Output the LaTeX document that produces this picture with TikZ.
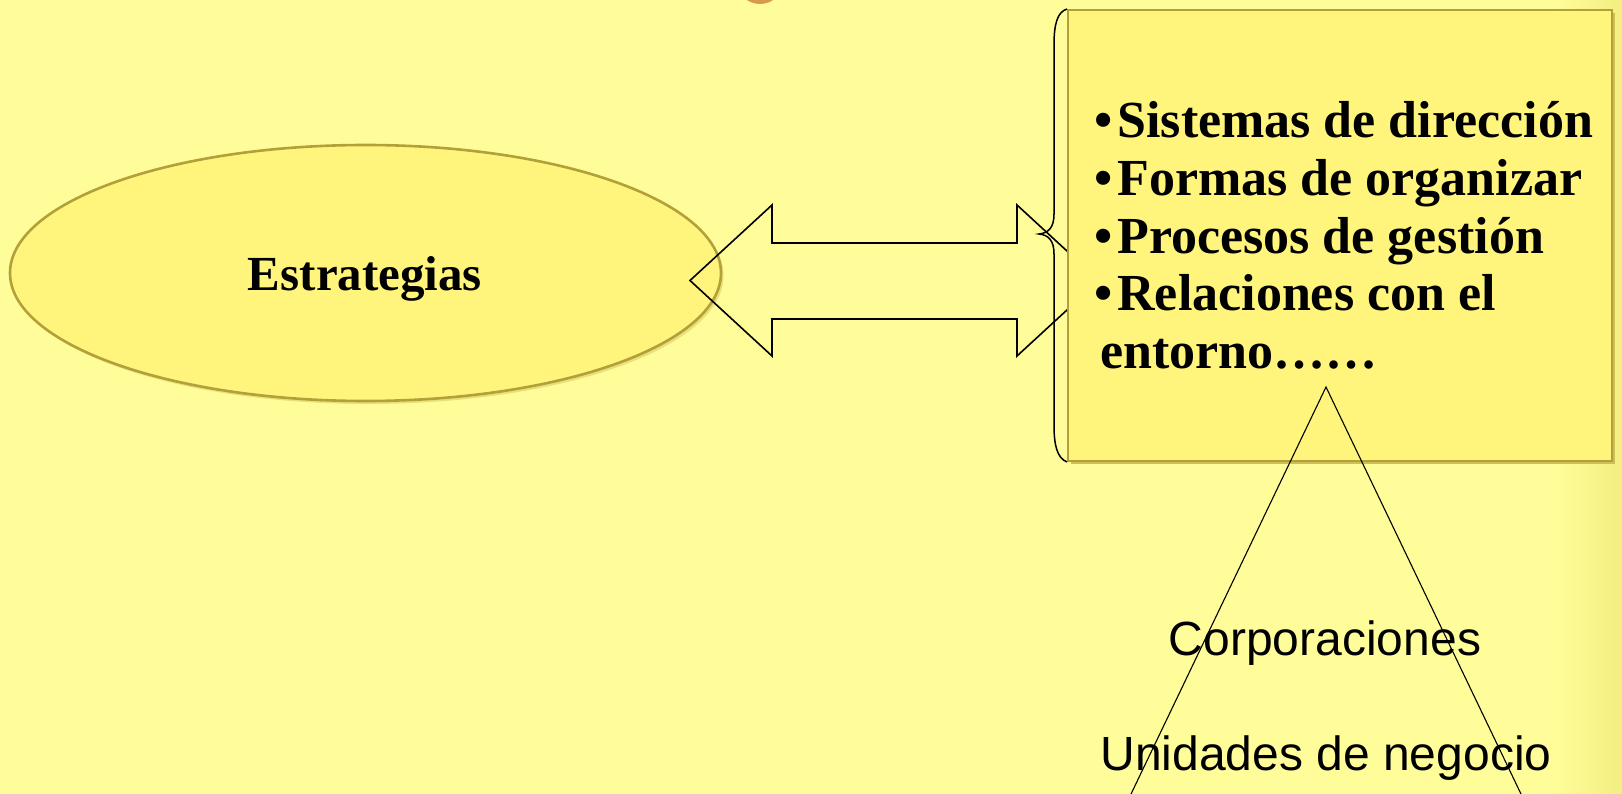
\documentclass[tikz,border=0pt]{standalone}
\usepackage{fontspec}
\setmainfont{Liberation Serif}
\newfontfamily\sansfont{Liberation Sans}
\usetikzlibrary{shapes.geometric}
\definecolor{bgyellow}{HTML}{FFFD9A}
\definecolor{bgedge}{HTML}{F3EE80}
\definecolor{shapefill}{HTML}{FFF57D}
\definecolor{shapeborder}{HTML}{B3A038}
\definecolor{shadowcol}{HTML}{CDBE55}
\definecolor{orangedot}{HTML}{D99A4E}
\tikzset{
  bigserif/.style={font=\bfseries\fontsize{49}{58}\selectfont, inner sep=0pt},
  listtext/.style={font=\bfseries\fontsize{52}{57.7}\selectfont, inner sep=0pt, align=left},
  sanslabel/.style={font=\sansfont\fontsize{48}{58}\selectfont, inner sep=0pt},
  outline/.style={draw=black, line width=1.6pt, line join=miter},
  thinline/.style={draw=black, line width=1.1pt},
  panel/.style={fill=shapefill, draw=shapeborder, line width=2.6pt},
}
\begin{document}
\begin{tikzpicture}[x=1pt,y=-1pt]
\useasboundingbox (0,0) rectangle (1622,794);
\clip (0,0) rectangle (1622,794);
% background
\fill[bgyellow] (0,0) rectangle (1622,794);
\shade[left color=bgyellow, right color=bgedge] (1555,0) rectangle (1622,794);
% orange circle at the top
\fill[orangedot] (760,-20) circle[radius=24];
% ellipse
\fill[shadowcol, opacity=0.45] (368,276) ellipse[x radius=355.5, y radius=128];
\path[panel] (365.5,273) ellipse[x radius=355.5, y radius=128];
\node[bigserif, anchor=base] (strat) at (365,290.5) {Estrategias};
% double arrow (outline only)
\draw[outline] (690,280.5) -- (772,205) -- (772,243) -- (1017,243) -- (1017,205)
  -- (1099,280.5) -- (1017,356) -- (1017,319) -- (772,319) -- (772,356) -- cycle;
% box with shadow
\fill[shadowcol] (1071,13) rectangle (1615,464);
\path[panel] (1068,10) rectangle (1612,461);
% brace
\draw[black, line width=1.5pt] (1067,9) .. controls (1057,12) and (1054,25) .. (1054,45)
  -- (1054,214) .. controls (1054,227) and (1049,233) .. (1039,234)
  .. controls (1049,235) and (1054,241) .. (1054,254)
  -- (1054,425) .. controls (1054,445) and (1057,458) .. (1067,462);
% list text (base = baseline of the last line)
\node[listtext, anchor=base west] (list) at (1094,368.4)
  {•\hspace{5pt}Sistemas de dirección\\
   •\hspace{5pt}Formas de organizar\\
   •\hspace{5pt}Procesos de gestión\\
   •\hspace{5pt}Relaciones con el\\
   \hspace{6pt}entorno……};
% triangle
\coordinate (apex) at (1326,387);
\coordinate (leftfoot) at (1097,865);
\coordinate (rightfoot) at (1555,865);
\draw[thinline] (leftfoot) -- (apex) -- (rightfoot);
% labels
\node[sanslabel, anchor=base] (corp) at (1325,655) {Corporaciones};
\node[sanslabel, anchor=base] (unid) at (1326,770) {Unidades de negocio};
\end{tikzpicture}
\end{document}
